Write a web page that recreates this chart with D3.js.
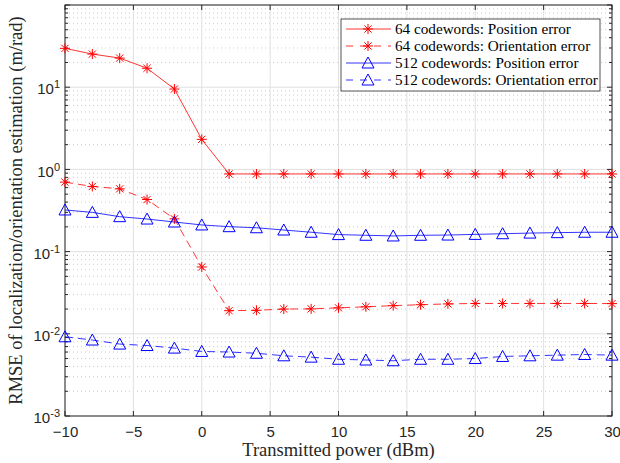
<!DOCTYPE html>
<html>
<head>
<meta charset="utf-8">
<script src="https://cdn.jsdelivr.net/npm/d3@7"></script>
<style>
body { margin: 0; background: #fff; }
svg { display: block; }
.tick text { font-family: "Liberation Sans", Arial, sans-serif; font-size: 15px; fill: #262626; }
.lbl { font-family: "Liberation Serif", "DejaVu Serif", serif; font-size: 18.5px; fill: #262626; }
.leg { font-family: "Liberation Serif", "DejaVu Serif", serif; font-size: 15.2px; fill: #000; }
</style>
</head>
<body>
<svg id="chart" width="620" height="463"></svg>
<script>
// transmitted power (dBm)
var power = [-10, -8, -6, -4, -2, 0, 2, 4, 6, 8, 10, 12, 14, 16, 18, 20, 22, 24, 26, 28, 30];

var pos64 = [29.7, 25.3, 22.6, 17.0, 9.5, 2.32, 0.88, 0.88, 0.88, 0.88, 0.88, 0.88, 0.88, 0.88, 0.88, 0.88, 0.88, 0.88, 0.88, 0.88, 0.88];
var ori64 = [0.70, 0.62, 0.58, 0.43, 0.25, 0.065, 0.0191, 0.0193, 0.0200, 0.0201, 0.0207, 0.0213, 0.0220, 0.0226, 0.0231, 0.0234, 0.0234, 0.0234, 0.0234, 0.0234, 0.0233];
var pos512 = [0.321, 0.300, 0.266, 0.249, 0.229, 0.211, 0.201, 0.195, 0.183, 0.172, 0.161, 0.158, 0.155, 0.158, 0.159, 0.162, 0.165, 0.168, 0.170, 0.172, 0.172];
var ori512 = [0.0092, 0.0084, 0.0075, 0.0072, 0.0067, 0.0061, 0.0060, 0.0058, 0.0054, 0.0052, 0.0049, 0.0048, 0.0047, 0.0049, 0.0049, 0.0050, 0.0053, 0.0054, 0.0055, 0.0056, 0.0055];

var xTicks = [-10, -5, 0, 5, 10, 15, 20, 25, 30];
var yDecades = [-3, -2, -1, 0, 1, 2];

var series = [
    {name: "64 codewords: Position error", values: pos64, color: "#ff0000", dash: null, marker: "star"},
    {name: "64 codewords: Orientation error", values: ori64, color: "#ff0000", dash: "8,5", marker: "star"},
    {name: "512 codewords: Position error", values: pos512, color: "#0000ff", dash: null, marker: "tri"},
    {name: "512 codewords: Orientation error", values: ori512, color: "#0000ff", dash: "8,5", marker: "tri"}
];

var margin = {top: 5, right: 8, bottom: 47, left: 65},
    width = 620 - margin.left - margin.right,
    height = 463 - margin.top - margin.bottom;

var x = d3.scaleLinear().domain([-10, 30]).range([0, width]);
var y = d3.scaleLog().domain([1e-3, 1e2]).range([height, 0]);

var svg = d3.select("#chart").append("g")
    .attr("transform", "translate(" + margin.left + "," + margin.top + ")");

// minor values on the log axis
var minors = [];
yDecades.slice(0, -1).forEach(function (e) {
    for (var k = 2; k <= 9; k++) minors.push(k * Math.pow(10, e));
});

// grid
svg.selectAll(".ygridminor").data(minors).enter().append("line")
    .attr("x1", 0).attr("x2", width)
    .attr("y1", function (d) { return y(d); }).attr("y2", function (d) { return y(d); })
    .attr("stroke", "#c0c0c0").attr("stroke-width", 0.8).attr("stroke-dasharray", "1,3");
svg.selectAll(".ygrid").data(yDecades).enter().append("line")
    .attr("x1", 0).attr("x2", width)
    .attr("y1", function (d) { return y(Math.pow(10, d)); }).attr("y2", function (d) { return y(Math.pow(10, d)); })
    .attr("stroke", "#e0e0e0").attr("stroke-width", 1);
svg.selectAll(".xgrid").data(xTicks).enter().append("line")
    .attr("y1", 0).attr("y2", height)
    .attr("x1", function (d) { return x(d); }).attr("x2", function (d) { return x(d); })
    .attr("stroke", "#e0e0e0").attr("stroke-width", 1);

// axes
var xAxis = d3.axisBottom(x).tickValues(xTicks).tickSize(0).tickPadding(10);
svg.append("g").attr("transform", "translate(0," + height + ")").call(xAxis)
    .call(function (g) { g.select(".domain").remove(); });

var yAxis = d3.axisLeft(y).tickValues(yDecades.map(function (e) { return Math.pow(10, e); }))
    .tickSize(0).tickPadding(5).tickFormat(function () { return ""; });
var yg = svg.append("g").call(yAxis);
yg.select(".domain").remove();
yg.selectAll(".tick text").each(function (d) {
    var t = d3.select(this);
    var e = Math.round(Math.log10(d));
    t.attr("dy", "0.45em");
    t.append("tspan").text("10");
    t.append("tspan").attr("dy", "-0.55em").style("font-size", "11px").text(e);
});
yg.selectAll(".tick").filter(function (d) { return d >= 99; }).remove();

// ticks inside the box (MATLAB style)
var tk = svg.append("g").attr("stroke", "#262626").attr("stroke-width", 1);
xTicks.forEach(function (d) {
    tk.append("line").attr("x1", x(d)).attr("x2", x(d)).attr("y1", height).attr("y2", height - 5);
    tk.append("line").attr("x1", x(d)).attr("x2", x(d)).attr("y1", 0).attr("y2", 5);
});
yDecades.forEach(function (e) {
    var v = y(Math.pow(10, e));
    tk.append("line").attr("x1", 0).attr("x2", 5).attr("y1", v).attr("y2", v);
    tk.append("line").attr("x1", width).attr("x2", width - 5).attr("y1", v).attr("y2", v);
});
minors.forEach(function (d) {
    tk.append("line").attr("x1", 0).attr("x2", 3).attr("y1", y(d)).attr("y2", y(d));
    tk.append("line").attr("x1", width).attr("x2", width - 3).attr("y1", y(d)).attr("y2", y(d));
});

svg.append("rect").attr("width", width).attr("height", height)
    .attr("fill", "none").attr("stroke", "#262626").attr("stroke-width", 1);

// markers
function drawMarker(g, type, cx, cy, color) {
    if (type === "star") {
        var r = 5, s = 3.6;
        var p = "M" + (cx - r) + "," + cy + "L" + (cx + r) + "," + cy +
            "M" + cx + "," + (cy - r) + "L" + cx + "," + (cy + r) +
            "M" + (cx - s) + "," + (cy - s) + "L" + (cx + s) + "," + (cy + s) +
            "M" + (cx - s) + "," + (cy + s) + "L" + (cx + s) + "," + (cy - s);
        g.append("path").attr("d", p).attr("stroke", color).attr("stroke-width", 1).attr("fill", "none");
    } else {
        var w = 6, h = 5;
        g.append("path")
            .attr("d", "M" + cx + "," + (cy - h - 1) + "L" + (cx + w) + "," + (cy + h) + "L" + (cx - w) + "," + (cy + h) + "Z")
            .attr("stroke", color).attr("stroke-width", 1).attr("fill", "none");
    }
}

var line = d3.line()
    .x(function (d) { return x(d[0]); })
    .y(function (d) { return y(d[1]); });

series.forEach(function (s) {
    var pts = power.map(function (p, i) { return [p, s.values[i]]; });
    svg.append("path")
        .attr("d", line(pts))
        .attr("fill", "none")
        .attr("stroke", s.color)
        .attr("stroke-width", 0.8)
        .attr("stroke-dasharray", s.dash);
    var mg = svg.append("g");
    pts.forEach(function (d) { drawMarker(mg, s.marker, x(d[0]), y(d[1]), s.color); });
});

// labels
d3.select("#chart").append("text").attr("class", "lbl")
    .attr("x", margin.left + width / 2).attr("y", 456)
    .attr("text-anchor", "middle").text("Transmitted power (dBm)");
d3.select("#chart").append("text").attr("class", "lbl")
    .attr("transform", "translate(22," + (margin.top + height / 2) + ") rotate(-90)")
    .attr("text-anchor", "middle").text("RMSE of localization/orientation estimation (m/rad)");

// legend
var lg = d3.select("#chart").append("g").attr("transform", "translate(341,19)");
lg.append("rect").attr("width", 259).attr("height", 72)
    .attr("fill", "#fff").attr("stroke", "#262626").attr("stroke-width", 0.8);
series.forEach(function (s, i) {
    var yy = 10 + i * 17;
    lg.append("line").attr("x1", 5).attr("x2", 50).attr("y1", yy).attr("y2", yy)
        .attr("stroke", s.color).attr("stroke-width", 0.8).attr("stroke-dasharray", s.dash ? "7,7" : null);
    drawMarker(lg, s.marker, 27, yy, s.color);
    lg.append("text").attr("class", "leg").attr("x", 54).attr("y", yy + 5).text(s.name);
});
</script>
</body>
</html>
